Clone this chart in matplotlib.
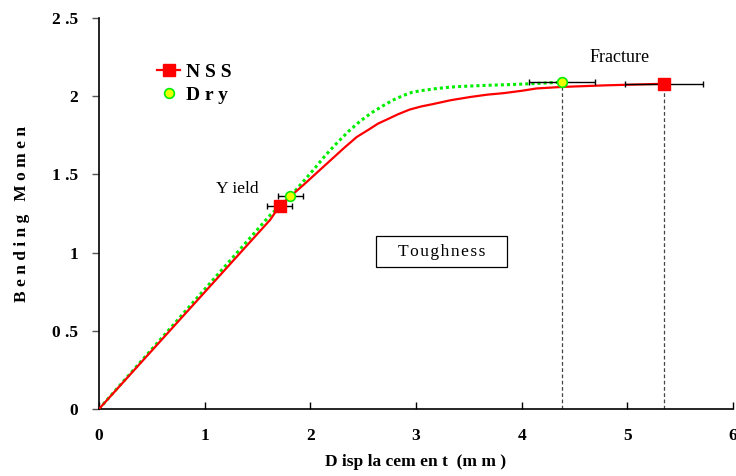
import matplotlib.pyplot as plt
from matplotlib.lines import Line2D
from matplotlib.patches import Rectangle

# NSS curve (displacement mm, bending moment)
nss_x = [0.0, 1.62, 1.71, 1.93, 2.06, 2.19, 2.32, 2.44, 2.56, 2.64, 2.72, 2.83, 2.94,
         3.05, 3.16, 3.33, 3.51, 3.67, 3.83, 4.0, 4.14, 4.39, 4.8, 5.35]
nss_y = [0.0, 1.21, 1.30, 1.43, 1.51, 1.59, 1.67, 1.74, 1.79, 1.825, 1.85, 1.885, 1.915,
         1.935, 1.95, 1.975, 1.995, 2.01, 2.02, 2.035, 2.05, 2.06, 2.07, 2.08]

# Dry curve
dry_x = [0.0, 1.62, 1.81, 2.03, 2.14, 2.25, 2.36, 2.47, 2.58, 2.69, 2.78, 2.88, 2.96,
         3.04, 3.2, 3.35, 3.5, 3.67, 3.9, 4.08, 4.38]
dry_y = [0.0, 1.24, 1.36, 1.53, 1.62, 1.70, 1.775, 1.84, 1.895, 1.94, 1.975, 2.005, 2.025,
         2.035, 2.05, 2.06, 2.065, 2.07, 2.075, 2.08, 2.09]

# yield / fracture points with x error
nss_pts_x = [1.71, 5.35]
nss_pts_y = [1.30, 2.08]
nss_err = [0.12, 0.37]
dry_pts_x = [1.81, 4.38]
dry_pts_y = [1.36, 2.09]
dry_err = [0.12, 0.31]

xticks = [0, 1, 2, 3, 4, 5, 6]
yticks = [0, 0.5, 1, 1.5, 2, 2.5]
ytick_labels = ['0', '0 .5', '1', '1 .5', '2', '2 .5']

serif = 'Liberation Serif'
red = '#ff0000'
green = '#00ee00'

fig = plt.figure(figsize=(7.36, 4.76), dpi=100)
ax = fig.add_axes([0.1345, 0.1408, 0.8615, 0.8212])

# vertical dashed lines at fracture
for xv, yv in [(dry_pts_x[1], dry_pts_y[1]), (nss_pts_x[1], nss_pts_y[1])]:
    ax.plot([xv, xv], [0, yv], ls=(0, (3, 2)), c='#444444', lw=0.9, zorder=1)

ax.plot(dry_x, dry_y, ls=(0, (1, 1)), c=green, lw=2.2, zorder=2)
ax.plot(nss_x, nss_y, '-', c=red, lw=1.6, zorder=3)

ax.errorbar(dry_pts_x, dry_pts_y, xerr=dry_err, fmt='none', ecolor='black',
            elinewidth=1, capsize=2.5, zorder=4)
ax.errorbar(nss_pts_x, nss_pts_y, xerr=nss_err, fmt='none', ecolor='black',
            elinewidth=1, capsize=2.5, zorder=4)
ax.plot(dry_pts_x, dry_pts_y, 'o', ms=7, mfc='#eeff00', mec=green, mew=1.2, zorder=5)
ax.plot(nss_pts_x, nss_pts_y, 's', ms=9, mfc=red, mec=red, zorder=6)

ax.set_xlim(0, 6)
ax.set_ylim(0, 2.5)
ax.set_xticks(xticks)
ax.set_yticks(yticks)
ax.set_yticklabels(ytick_labels)
for lab in ax.get_xticklabels() + ax.get_yticklabels():
    lab.set_fontfamily(serif)
    lab.set_fontweight('bold')
    lab.set_fontsize(12.5)
ax.tick_params(axis='x', direction='in', length=5, pad=14, width=1)
ax.tick_params(axis='y', direction='out', length=5, pad=10, width=1, color='#555555')
ax.spines['top'].set_visible(False)
ax.spines['right'].set_visible(False)
ax.spines['left'].set_linewidth(1.2)
ax.spines['bottom'].set_linewidth(1.2)

ax.set_xlabel('D isp la cem en t  (m m )', family=serif, weight='bold', fontsize=12.5, labelpad=7)
ax.set_ylabel('B e n d i n g   M o m e n', family=serif, weight='bold', fontsize=12.5, labelpad=16)

ax.text(1.31, 1.41, 'Y ield', family=serif, fontsize=12.5, ha='center', va='center')
ax.text(4.93, 2.25, 'Fracture', family=serif, fontsize=13, ha='center', va='center')

# Toughness label box
ax.add_patch(Rectangle((2.62, 0.908), 1.24, 0.198, fc='white', ec='black', lw=0.9, zorder=3))
ax.text(3.24, 1.007, '\u200a'.join('Toughness'), family=[serif, 'DejaVu Sans'], fontsize=12.5,
        ha='center', va='center', zorder=4)

handles = [
    Line2D([], [], c=red, lw=1.6, marker='s', ms=9, mfc=red, mec=red),
    Line2D([], [], ls='none', marker='o', ms=7, mfc='#eeff00', mec=green, mew=1.2),
]
ax.legend(handles, ['N S S', 'D r y'], loc='upper left', bbox_to_anchor=(0.064, 0.93),
          frameon=False, handlelength=1.2, handletextpad=0.3, labelspacing=0.3,
          prop=dict(family=serif, weight='bold', size=14))

fig.savefig('out.png', dpi=100)
